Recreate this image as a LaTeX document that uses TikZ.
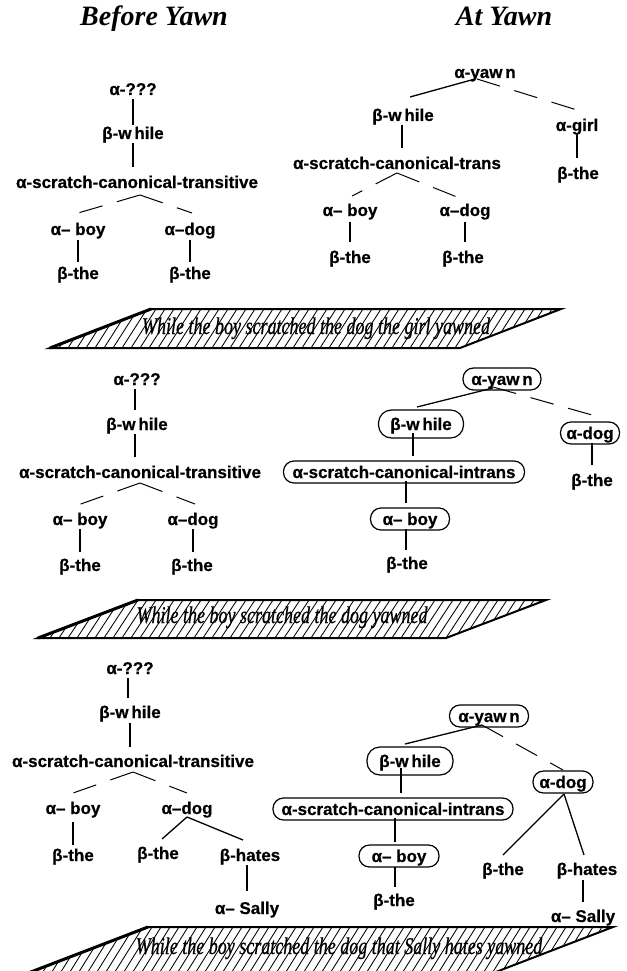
\documentclass[tikz,border=0pt]{standalone}
\usepackage{fontspec}
\setmainfont{Liberation Serif}
\newfontfamily\lblfont[FakeBold=0.6]{Liberation Sans Bold}
\newfontfamily\sentfont[FakeBold=0.6]{Liberation Serif Italic}
\newcommand\lnk[5][edge]{\draw[#1] ([shift={(#3)}]#2.center) -- ([shift={(#5)}]#4.center);}
\newcommand\hatchplane[8]{%
  \begin{scope}
    \clip (#1,#2) -- (#3,#2) -- (#4,#5) -- (#6,#5) -- cycle;
    \foreach \hx in {-40,-31,...,660} \draw[hatch] (\hx,#5) -- ({\hx+#7},#2);
  \end{scope}
  \draw[plane] (#1,#2) -- (#3,#2) -- (#4,#5) -- (#6,#5) -- cycle;
  \draw[line width=3pt] (#6,#5) -- (#1,#2);
}
\tikzset{
 lbl/.style={font=\lblfont\fontsize{17}{20}\selectfont, inner sep=0pt, text height=12pt, text depth=0pt},
 bx/.style={lbl, draw, line width=1.2pt, rounded corners=10.5pt, inner xsep=8pt, inner ysep=5pt, minimum height=22pt},
 edge/.style={line width=1.3pt},
 dedge/.style={line width=1pt, dash pattern=on 24pt off 15pt},
 ttl/.style={font=\bfseries\itshape\fontsize{28}{32}\selectfont, anchor=base, inner sep=0pt},
 sent/.style={anchor=base, inner sep=0pt, font=\sentfont\fontsize{24}{28}\selectfont},
 hatch/.style={line width=0.85pt},
 plane/.style={line width=2pt, line join=miter},
}
\begin{document}
\begin{tikzpicture}[x=1pt,y=-1pt]
\useasboundingbox (0,0) rectangle (626,971);
\clip (0,0) rectangle (626,971);
\fill[white] (0,0) rectangle (626,971);

% titles
\node[ttl] (tb) at (154,26) {Before Yawn};
\node[ttl] (ta) at (504,26) {At Yawn};

% ---------- panel 1 left
\node[lbl] (q1) at (133,89) {α-???};
\node[lbl] (w1) at (133,133) {β-w\,hile};
\node[lbl] (s1) at (137,182) {α-scratch-canonical-transitive};
\node[lbl] (b1) at (78,229) {α– boy};
\node[lbl] (d1) at (190,229) {α–dog};
\node[lbl] (t1a) at (78,273) {β-the};
\node[lbl] (t1b) at (190,273) {β-the};
\lnk{q1}{0,10}{w1}{0,-8}
\lnk{w1}{0,10}{s1}{-4,-15}
\lnk[dedge]{s1}{3,13}{b1}{0,-16}
\lnk[dedge]{s1}{3,13}{d1}{2,-16}
\lnk{b1}{0,11}{t1a}{0,-11}
\lnk{d1}{0,11}{t1b}{0,-11}

% ---------- panel 1 right
\node[lbl] (y1) at (485,72) {α-yaw\,n};
\node[lbl] (wr1) at (403,115) {β-w\,hile};
\node[lbl] (g1) at (577,125) {α-girl};
\node[lbl] (sr1) at (397,163) {α-scratch-canonical-trans};
\node[lbl] (tg1) at (578,173) {β-the};
\node[lbl] (br1) at (350,210) {α– boy};
\node[lbl] (dr1) at (465,210) {α–dog};
\node[lbl] (tr1a) at (350,257) {β-the};
\node[lbl] (tr1b) at (463,257) {β-the};
\lnk{y1}{-10,7}{wr1}{7,-18}
\lnk[dedge]{y1}{-8,7}{g1}{0,-15}
\lnk{wr1}{-1,10}{sr1}{5,-15}
\lnk[dedge]{sr1}{0,10}{br1}{2,-14}
\lnk[dedge]{sr1}{0,10}{dr1}{-8,-13}
\lnk{br1}{0,12}{tr1a}{0,-15}
\lnk{dr1}{0,12}{tr1b}{2,-15}
\lnk{g1}{0,8}{tg1}{-1,-15}

% ---------- plane 1
\hatchplane{151}{309}{561}{460}{348}{50}{25}{}
\node[sent] (pl1) at (316,334) {\scalebox{0.75}[1]{While the boy scratched the dog the girl yawned}};

% ---------- panel 2 left
\node[lbl] (q2) at (137,379) {α-???};
\node[lbl] (w2) at (137,424) {β-w\,hile};
\node[lbl] (s2) at (140,472) {α-scratch-canonical-transitive};
\node[lbl] (b2) at (80,519) {α– boy};
\node[lbl] (d2) at (193,519) {α–dog};
\node[lbl] (t2a) at (80,565) {β-the};
\node[lbl] (t2b) at (192,565) {β-the};
\lnk{q2}{-2,10}{w2}{-2,-14}
\lnk{w2}{-2,10}{s2}{-5,-15}
\lnk[dedge]{s2}{0,11}{b2}{-2,-14}
\lnk[dedge]{s2}{0,11}{d2}{2,-15}
\lnk{b2}{0,10}{t2a}{0,-13}
\lnk{d2}{0,10}{t2b}{1,-13}

% ---------- panel 2 right
\node[bx, minimum width=78pt] (y2) at (502,379) {α-yaw\,n};
\node[bx, minimum width=85pt, minimum height=28pt, rounded corners=13pt] (wr2) at (421,424) {β-w\,hile};
\node[bx, minimum width=241pt] (sr2) at (404,472) {α-scratch-canonical-intrans};
\node[bx, minimum width=79pt] (br2) at (410,519) {α– boy};
\node[lbl] (tr2) at (407,563) {β-the};
\node[bx, minimum width=59pt, inner xsep=5pt] (dr2) at (590,433) {α-dog};
\node[lbl] (td2) at (592,480) {β-the};
\lnk{y2}{-9,9}{wr2}{-4,-17}
\lnk[dedge]{y2}{-9,8}{dr2}{2,-18}
\lnk{wr2}{-8,9}{sr2}{9,-16}
\lnk{sr2}{2,9}{br2}{-4,-16}
\lnk{br2}{-4,10}{tr2}{-1,-13}
\lnk{dr2}{2,10}{td2}{0,-15}

% ---------- plane 2
\hatchplane{138}{600}{546}{446}{638}{38}{25}{}
\node[sent] (pl2) at (282,623) {\scalebox{0.75}[1]{While the boy scratched the dog yawned}};

% ---------- panel 3 left
\node[lbl] (q3) at (130,668) {α-???};
\node[lbl] (w3) at (130,712) {β-w\,hile};
\node[lbl] (s3) at (133,761) {α-scratch-canonical-transitive};
\node[lbl] (b3) at (73,808) {α– boy};
\node[lbl] (d3) at (187,808) {α–dog};
\node[lbl] (t3a) at (73,855) {β-the};
\node[lbl] (t3b) at (158,853) {β-the};
\node[lbl] (h3) at (250,855) {β-hates};
\node[lbl] (sl3) at (247,908) {α– Sally};
\lnk{q3}{-2,10}{w3}{-2,-14}
\lnk{w3}{0,11}{s3}{-3,-14}
\lnk[dedge]{s3}{0,11}{b3}{0,-15}
\lnk[dedge]{s3}{0,11}{d3}{0,-15}
\lnk{b3}{0,14}{t3a}{0,-10}
\lnk{d3}{0,9}{t3b}{4,-14}
\lnk{d3}{0,9}{h3}{-7,-15}
\lnk{h3}{-3,10}{sl3}{0,-17}

% ---------- panel 3 right
\node[bx, minimum width=79pt] (y3) at (489,716) {α-yaw\,n};
\node[bx, minimum width=86pt, minimum height=28pt, rounded corners=13pt] (wr3) at (410,761) {β-w\,hile};
\node[bx, minimum width=240pt] (sr3) at (393,809) {α-scratch-canonical-intrans};
\node[bx, minimum width=80pt] (br3) at (399,856) {α– boy};
\node[lbl] (tr3) at (394,900) {β-the};
\node[bx, minimum width=60pt, inner xsep=5pt] (dr3) at (563,782) {α-dog};
\node[lbl] (tdr3) at (503,869) {β-the};
\node[lbl] (hr3) at (587,869) {β-hates};
\node[lbl] (sal3) at (583,916) {α– Sally};
\lnk{y3}{-7,9}{wr3}{-5,-17}
\lnk[dedge]{y3}{-7,9}{dr3}{0,-12}
\lnk{wr3}{-9,7}{sr3}{8,-16}
\lnk{sr3}{2,9}{br3}{-4,-14}
\lnk{br3}{-4,11}{tr3}{1,-13}
\lnk{dr3}{1,12}{tdr3}{0,-14}
\lnk{dr3}{1,12}{hr3}{-3,-14}
\lnk{hr3}{-4,11}{sal3}{0,-14}

% ---------- plane 3
\hatchplane{148}{927}{613}{488}{975}{23}{30}{}
\node[sent] (pl3) at (339,954) {\scalebox{0.75}[1]{While the boy scratched the dog that Sally hates yawned}};
\end{tikzpicture}
\end{document}
